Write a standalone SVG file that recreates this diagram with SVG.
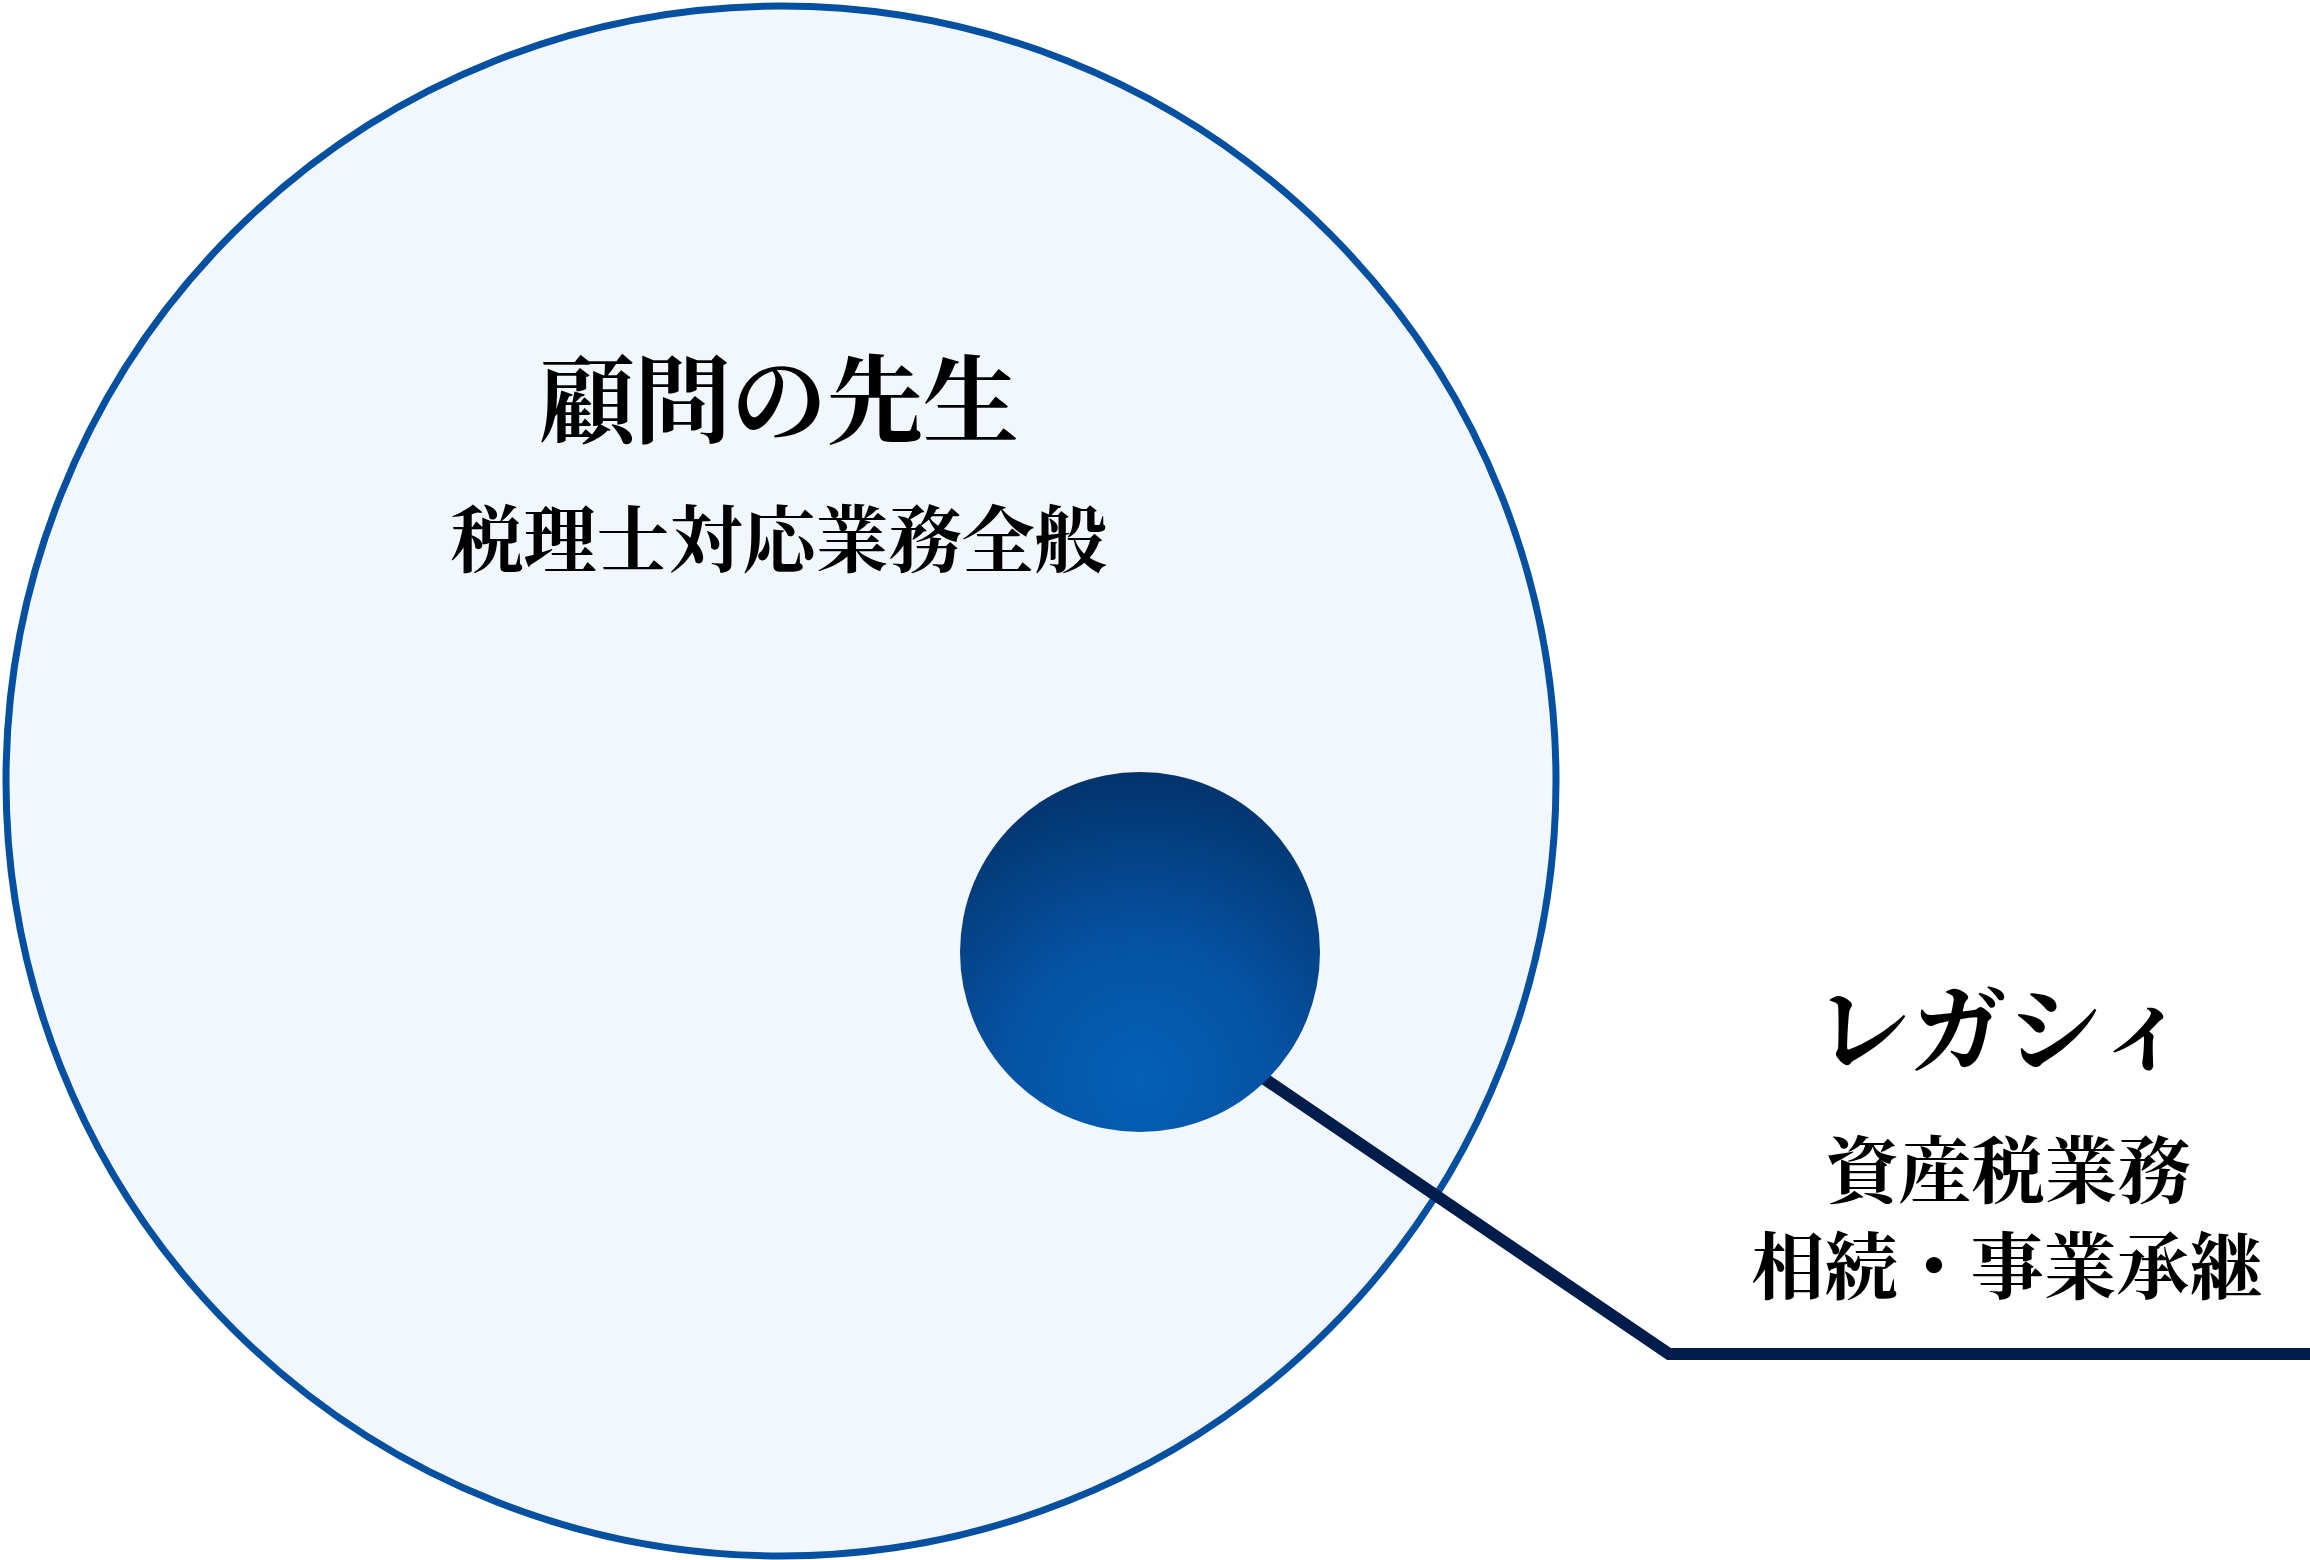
<svg xmlns="http://www.w3.org/2000/svg" width="2310" height="1560" viewBox="0 0 2310 1560">
  <defs>
    <radialGradient id="ballGrad" cx="0.5" cy="0.85" r="0.85" fx="0.5" fy="0.85">
      <stop offset="0" stop-color="#0560b8"/>
      <stop offset="0.45" stop-color="#0552a2"/>
      <stop offset="1" stop-color="#03336c"/>
    </radialGradient>
    <style>
      .jp { font-family: "Noto Serif CJK JP", "Noto Sans CJK JP", serif; font-weight: 700; fill: #000000; text-anchor: middle; }
      .title { font-size: 96px; }
      .sub { font-size: 73px; }
      .outer { fill: #f2f7fe; stroke: #0550a0; stroke-width: 7; }
      .connector { fill: none; stroke: #001c4a; stroke-width: 12; stroke-linejoin: miter; }
    </style>
  </defs>
  <rect width="2310" height="1560" fill="#ffffff"/>
  <g id="outer-node">
    <circle class="outer" cx="781" cy="781" r="775"/>
    <text class="jp title" x="779" y="435">顧問の先生</text>
    <text class="jp sub" x="779" y="566">税理士対応業務全般</text>
  </g>
  <g id="connectors">
    <polyline class="connector" points="1250,1069 1669,1354 2310,1354"/>
  </g>
  <g id="inner-node">
    <circle cx="1140" cy="952" r="180" fill="url(#ballGrad)"/>
  </g>
  <g id="legacy-label">
    <text class="jp title" x="2003" y="1064">レガシィ</text>
    <text class="jp sub" x="2008" y="1197">資産税業務</text>
    <text class="jp sub" x="2007" y="1293">相続・事業承継</text>
  </g>
</svg>
